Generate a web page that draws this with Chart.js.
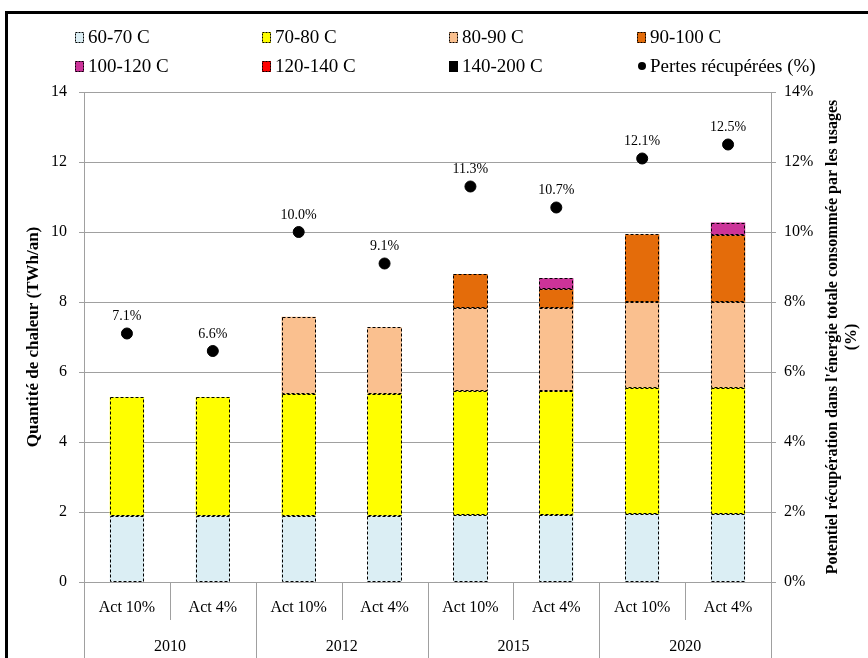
<!DOCTYPE html>
<html lang="fr">
<head>
<meta charset="UTF-8">
<title>Quantité de chaleur récupérable</title>
<script src="https://cdn.jsdelivr.net/npm/chart.js"></script>
<style>
  body { margin: 0; background: #fff; }
  #wrap { position: relative; width: 868px; height: 658px; overflow: hidden; }
  #frame { position: absolute; left: 5px; top: 11px; width: 900px; height: 700px;
           border-top: 3px solid #000; border-left: 3px solid #000; }
  canvas { position: absolute; left: 0; top: 0; }
</style>
</head>
<body>
<div id="wrap">
  <div id="frame"></div>
  <canvas id="heatChart" width="868" height="658"></canvas>
</div>
<script>
// scenarios and years
const scenarios = ['Act 10%', 'Act 4%', 'Act 10%', 'Act 4%', 'Act 10%', 'Act 4%', 'Act 10%', 'Act 4%'];
const years = ['2010', '2012', '2015', '2020'];

// heat quantity per temperature band (TWh/an)
const band60_70   = [1.89, 1.89, 1.89, 1.89, 1.91, 1.91, 1.94, 1.94];
const band70_80   = [3.39, 3.39, 3.49, 3.49, 3.54, 3.54, 3.61, 3.61];
const band80_90   = [0, 0, 2.20, 1.90, 2.37, 2.37, 2.44, 2.44];
const band90_100  = [0, 0, 0, 0, 0.98, 0.54, 1.94, 1.92];
const band100_120 = [0, 0, 0, 0, 0, 0.32, 0, 0.36];
const band120_140 = [0, 0, 0, 0, 0, 0, 0, 0];
const band140_200 = [0, 0, 0, 0, 0, 0, 0, 0];

// share of recovered losses (%)
const pertesPct = [7.1, 6.6, 10.0, 9.1, 11.3, 10.7, 12.1, 12.5];

const yTicks = [0, 2, 4, 6, 8, 10, 12, 14];

const serif = "'Liberation Serif', 'Times New Roman', serif";
Chart.defaults.font.family = serif;
Chart.defaults.color = '#000';

function band(label, data, color) {
    return { type: 'bar', label: label, data: data, backgroundColor: color,
             borderWidth: 0, stack: 'heat', yAxisID: 'y', order: 2,
             barPercentage: 0.4, categoryPercentage: 1 };
}

// dashed outlines around each bar segment
const dashedBars = {
    id: 'dashedBars',
    afterDatasetsDraw(chart) {
        const ctx = chart.ctx;
        ctx.save();
        ctx.setLineDash([3, 2]);
        ctx.lineWidth = 1;
        ctx.strokeStyle = '#000';
        chart.data.datasets.forEach((ds, i) => {
            if (ds.type !== 'bar') return;
            chart.getDatasetMeta(i).data.forEach(el => {
                const p = el.getProps(['x', 'y', 'base', 'width'], true);
                if (Math.abs(p.base - p.y) < 0.5) return;
                const l = Math.round(p.x - p.width / 2) + 0.5;
                const r = Math.round(p.x + p.width / 2) - 0.5;
                const t = Math.round(Math.min(p.y, p.base)) + 0.5;
                const b = Math.round(Math.max(p.y, p.base)) - 0.5;
                ctx.strokeRect(l, t, r - l, b - t);
            });
        });
        ctx.restore();
    }
};

// value labels above the points
const pointLabels = {
    id: 'pointLabels',
    afterDatasetsDraw(chart) {
        const ctx = chart.ctx;
        ctx.save();
        ctx.font = '14px ' + serif;
        ctx.fillStyle = '#000';
        ctx.textAlign = 'center';
        ctx.textBaseline = 'middle';
        chart.data.datasets.forEach((ds, i) => {
            if (ds.type !== 'line') return;
            chart.getDatasetMeta(i).data.forEach((pt, j) => {
                ctx.fillText(ds.data[j].toFixed(1) + '%', pt.x, pt.y - 17);
            });
        });
        ctx.restore();
    }
};

// group separators below the x axis
const groupLines = {
    id: 'groupLines',
    afterDraw(chart) {
        const xs = chart.scales.x;
        const n = scenarios.length;
        const w = xs.width / n;
        const ctx = chart.ctx;
        const b = chart.chartArea.bottom;
        ctx.save();
        ctx.strokeStyle = '#a0a0a0';
        ctx.lineWidth = 1;
        for (let i = 0; i <= n; i++) {
            const px = Math.round(xs.left + i * w) + 0.5;
            ctx.beginPath();
            ctx.moveTo(px, b);
            ctx.lineTo(px, i % 2 === 0 ? chart.height : b + 38);
            ctx.stroke();
        }
        ctx.restore();
    }
};

// axis titles (both read bottom to top)
const axisTitles = {
    id: 'axisTitles',
    afterDraw(chart) {
        const ctx = chart.ctx;
        const a = chart.chartArea;
        const mid = (a.top + a.bottom) / 2;
        ctx.save();
        ctx.fillStyle = '#000';
        ctx.textAlign = 'center';
        ctx.textBaseline = 'middle';
        ctx.font = 'bold 17px ' + serif;
        ctx.translate(34, mid);
        ctx.rotate(-Math.PI / 2);
        ctx.fillText('Quantité de chaleur (TWh/an)', 0, 0);
        ctx.restore();

        ctx.save();
        ctx.fillStyle = '#000';
        ctx.textAlign = 'center';
        ctx.textBaseline = 'middle';
        ctx.font = 'bold 16px ' + serif;
        ctx.translate(a.right + 62, mid);
        ctx.rotate(-Math.PI / 2);
        ctx.fillText("Potentiel récupération dans l'énergie totale consommée par les usages", 0, 0);
        ctx.fillText('(%)', 0, 19);
        ctx.restore();
    }
};

// legend laid out as a 4 x 2 grid
const gridLegend = {
    id: 'gridLegend',
    afterDraw(chart) {
        const ctx = chart.ctx;
        const cols = [75, 262, 449, 637];
        const rows = [37, 66];
        ctx.save();
        ctx.font = '19px ' + serif;
        ctx.textBaseline = 'middle';
        chart.data.datasets.forEach((ds, i) => {
            const x = cols[i % 4];
            const y = rows[Math.floor(i / 4)];
            if (ds.type === 'line') {
                ctx.fillStyle = '#000';
                ctx.beginPath();
                ctx.arc(x + 5, y, 4, 0, Math.PI * 2);
                ctx.fill();
            } else {
                ctx.fillStyle = ds.backgroundColor;
                ctx.fillRect(x, y - 5, 9, 11);
                ctx.setLineDash([2, 1]);
                ctx.strokeStyle = '#000';
                ctx.lineWidth = 1;
                ctx.strokeRect(x + 0.5, y - 4.5, 8, 10);
                ctx.setLineDash([]);
            }
            ctx.fillStyle = '#000';
            ctx.fillText(ds.label, x + 13, y + 1);
        });
        ctx.restore();
    }
};

const ctx = document.getElementById('heatChart').getContext('2d');
new Chart(ctx, {
    data: {
        labels: scenarios,
        datasets: [
            band('60-70 C', band60_70, '#dbeef4'),
            band('70-80 C', band70_80, '#ffff00'),
            band('80-90 C', band80_90, '#fac08f'),
            band('90-100 C', band90_100, '#e46c0a'),
            band('100-120 C', band100_120, '#cc3399'),
            band('120-140 C', band120_140, '#ff0000'),
            band('140-200 C', band140_200, '#000000'),
            {
                type: 'line', label: 'Pertes récupérées (%)', data: pertesPct,
                yAxisID: 'y2', showLine: false, order: 1,
                pointRadius: 5.5, pointHoverRadius: 5.5,
                pointBackgroundColor: '#000', pointBorderColor: '#000'
            }
        ]
    },
    options: {
        responsive: false,
        animation: false,
        layout: { padding: { top: 92, left: 51, right: 55, bottom: 0 } },
        plugins: { legend: { display: false }, tooltip: { enabled: false } },
        scales: {
            x: {
                stacked: true,
                offset: true,
                grid: { display: false, drawTicks: false },
                border: { display: true, color: '#a0a0a0' },
                ticks: { font: { size: 16 }, padding: 16, maxRotation: 0, autoSkip: false },
                afterFit: s => { s.height = 38; }
            },
            x2: {
                type: 'category',
                labels: years,
                position: 'bottom',
                offset: true,
                grid: { display: false, drawTicks: false },
                border: { display: false },
                ticks: { font: { size: 16 }, padding: 17, maxRotation: 0, autoSkip: false },
                afterFit: s => { s.height = 38; }
            },
            y: {
                stacked: true,
                min: 0, max: 14,
                afterBuildTicks: s => { s.ticks = yTicks.map(v => ({ value: v })); },
                grid: { color: '#a0a0a0', tickLength: 5 },
                border: { color: '#a0a0a0' },
                ticks: { font: { size: 16 }, padding: 12 },
                afterFit: s => { s.width = 33; }
            },
            y2: {
                position: 'right',
                min: 0, max: 14,
                afterBuildTicks: s => { s.ticks = yTicks.map(v => ({ value: v })); },
                grid: { drawOnChartArea: false, color: '#a0a0a0', tickLength: 5 },
                border: { color: '#a0a0a0' },
                ticks: { font: { size: 16 }, padding: 8, callback: v => v + '%' },
                afterFit: s => { s.width = 42; }
            }
        }
    },
    plugins: [dashedBars, pointLabels, groupLines, axisTitles, gridLegend]
});
</script>
</body>
</html>
